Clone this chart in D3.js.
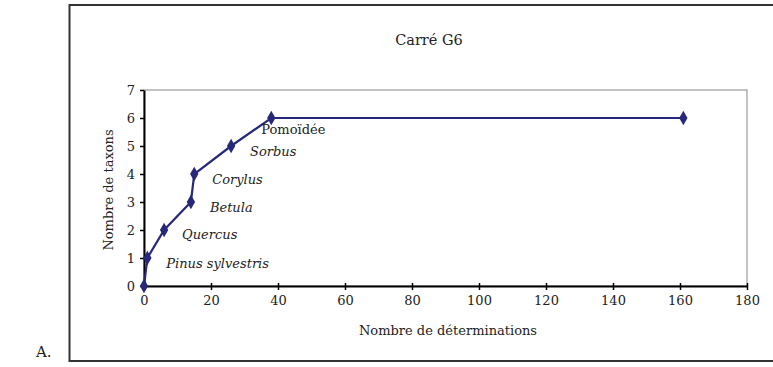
<!DOCTYPE html>
<html><head><meta charset="utf-8">
<script src="https://cdn.jsdelivr.net/npm/d3@7"></script>
<style>body{margin:0;background:#fff}svg{display:block}</style>
</head><body>
<script>
const determinations = [0, 1, 6, 14, 15, 26, 38, 161];
const taxons = [0, 1, 2, 3, 4, 5, 6, 6];
const taxonLabels = ["", "Pinus sylvestris", "Quercus", "Betula", "Corylus", "Sorbus", "Pomoïdée", ""];
const labelItalic = [false, true, true, true, true, true, false, false];
const xTicks = [0, 20, 40, 60, 80, 100, 120, 140, 160, 180];
const yTicks = [0, 1, 2, 3, 4, 5, 6, 7];
const title = "Carré G6";
const xTitle = "Nombre de déterminations";
const yTitle = "Nombre de taxons";
const panelLabel = "A.";

const W = 773, H = 367;
const font = "'DejaVu Serif', 'Liberation Serif', serif";
const fs = 13;
const svg = d3.select("body").append("svg").attr("width", W).attr("height", H);
svg.append("rect").attr("width", W).attr("height", H).attr("fill", "#fff");

// outer frame
svg.append("rect").attr("x", 69.5).attr("y", 5).attr("width", 720).attr("height", 356)
  .attr("fill", "none").attr("stroke", "#333").attr("stroke-width", 2);

const x = d3.scaleLinear().domain([0, 180]).range([144, 747]);
const y = d3.scaleLinear().domain([0, 7]).range([286, 90]);

// plot border (top/right gray)
svg.append("rect").attr("x", x(0)).attr("y", y(7)).attr("width", x(180) - x(0)).attr("height", y(0) - y(7))
  .attr("fill", "none").attr("stroke", "#999").attr("stroke-width", 1.2);

const xAxis = svg.append("g").attr("transform", `translate(0,${y(0)})`)
  .call(d3.axisBottom(x).tickValues(xTicks).tickFormat(d3.format("d")).tickSize(4).tickSizeOuter(0));
const yAxis = svg.append("g").attr("transform", `translate(${x(0)},0)`)
  .call(d3.axisLeft(y).tickValues(yTicks).tickFormat(d3.format("d")).tickSize(4).tickSizeOuter(0));
[xAxis, yAxis].forEach(g => {
  g.select(".domain").attr("stroke", "#000").attr("stroke-width", 2);
  g.selectAll(".tick line").attr("stroke", "#000").attr("stroke-width", 1.5);
  g.selectAll(".tick text").attr("font-family", font).attr("font-size", fs).attr("fill", "#222");
});
xAxis.selectAll(".tick line").attr("y1", -3);
xAxis.selectAll(".tick text").attr("dy", "0.95em");
yAxis.selectAll(".tick text").attr("x", -9);

const pts = determinations.map((d, i) => ({x: d, y: taxons[i], label: taxonLabels[i], it: labelItalic[i]}));
const color = "#27287a";
svg.append("path").datum(pts)
  .attr("d", d3.line().x(d => x(d.x)).y(d => y(d.y)))
  .attr("fill", "none").attr("stroke", color).attr("stroke-width", 2.2);
svg.selectAll(".m").data(pts).enter().append("path")
  .attr("d", d3.symbol().type(d3.symbolDiamond).size(60))
  .attr("transform", d => `translate(${x(d.x)},${y(d.y)})`)
  .attr("fill", color);

// point labels
const offsets = [[0,0],[19,10],[18,9],[19,10],[18,10],[19,10],[-10,16],[0,0]];
svg.selectAll(".lbl").data(pts).enter().append("text")
  .attr("x", (d, i) => x(d.x) + offsets[i][0])
  .attr("y", (d, i) => y(d.y) + offsets[i][1])
  .attr("font-family", font).attr("font-size", fs)
  .attr("font-style", d => d.it ? "italic" : "normal")
  .attr("fill", "#222")
  .text(d => d.label);

svg.append("text").attr("x", 429).attr("y", 45).attr("text-anchor", "middle")
  .attr("font-family", font).attr("font-size", 14.5).attr("fill", "#222").text(title);
svg.append("text").attr("x", 448).attr("y", 335).attr("text-anchor", "middle")
  .attr("font-family", font).attr("font-size", fs).attr("fill", "#222").text(xTitle);
svg.append("text").attr("transform", "translate(113,190) rotate(-90)").attr("text-anchor", "middle")
  .attr("font-family", font).attr("font-size", fs).attr("fill", "#222").text(yTitle);
svg.append("text").attr("x", 36).attr("y", 357)
  .attr("font-family", font).attr("font-size", 15).attr("fill", "#222").text(panelLabel);
</script>
</body></html>
